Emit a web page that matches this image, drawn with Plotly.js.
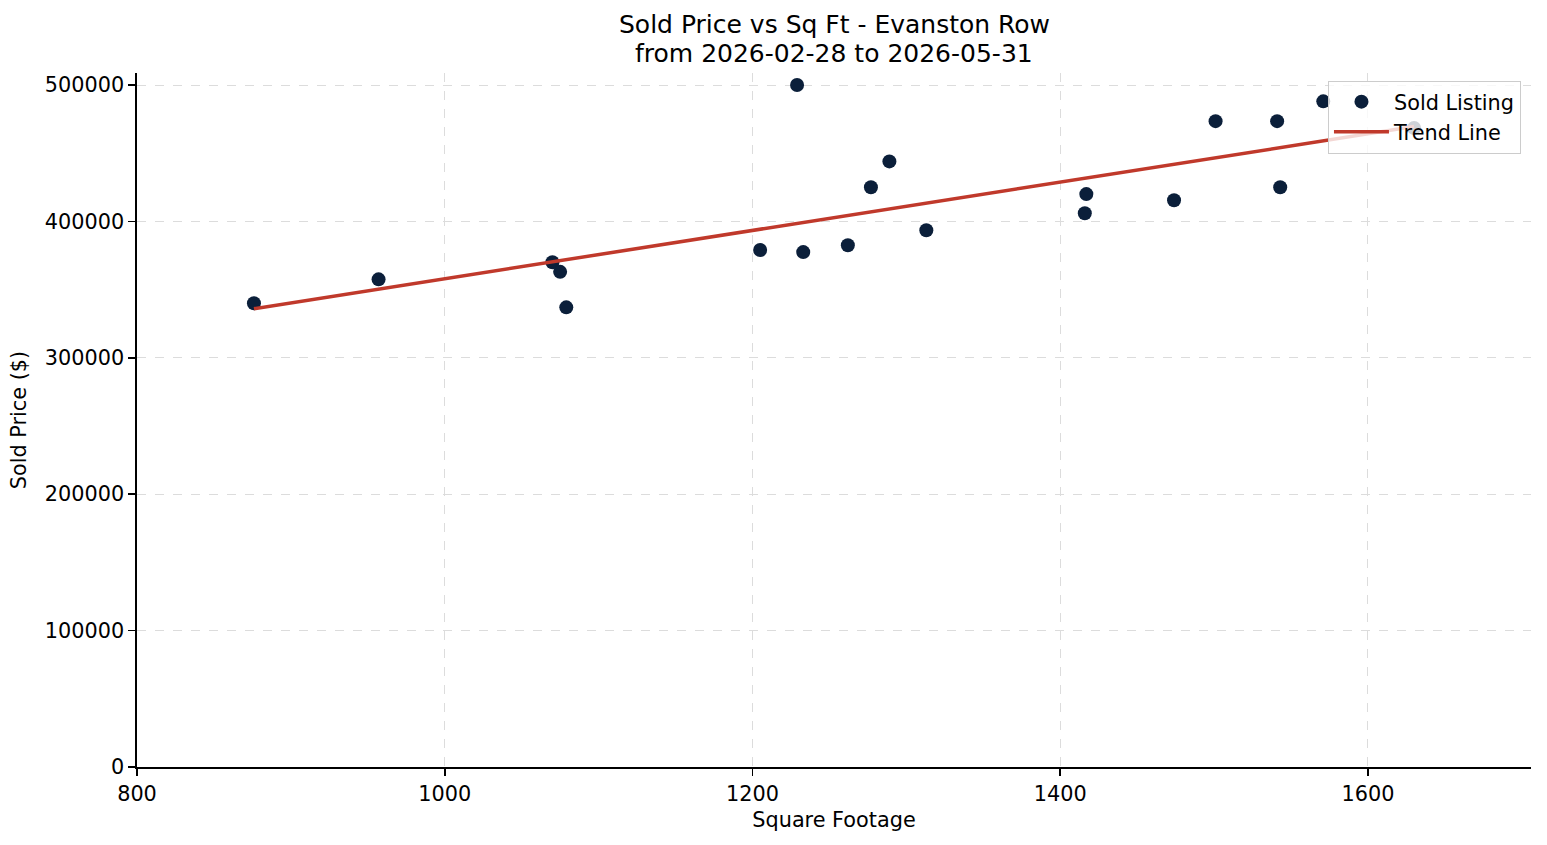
<!DOCTYPE html>
<html>
<head>
<meta charset="utf-8">
<script src="https://cdn.plot.ly/plotly-3.0.1.min.js"></script>
<style>html,body{margin:0;padding:0;background:#fff;}#chart{width:1547px;height:845px;}</style>
</head>
<body>
<div id="chart"></div>
<script>
const sqft = [876, 957, 1070, 1075, 1079, 1205, 1229, 1233, 1262, 1277, 1289, 1313, 1416, 1417, 1474, 1501, 1541, 1543, 1571, 1630];
const price = [340000, 357500, 370000, 363000, 337000, 379000, 500000, 377500, 382500, 425000, 444000, 393500, 406000, 420000, 415500, 473500, 473500, 425000, 488000, 468500];
const trendX = [876, 1630];
const trendY = [336000, 469500];
const titleLines = ['Sold Price vs Sq Ft - Evanston Row', 'from 2026-02-28 to 2026-05-31'];

const FS = 20.8;
const tickFont = {family: 'DejaVu Sans', size: FS, color: '#000'};

const traces = [
  {x: sqft, y: price, type: 'scatter', mode: 'markers', name: 'Sold Listing',
   marker: {color: '#0b1f3a', size: 14}},
  {x: trendX, y: trendY, type: 'scatter', mode: 'lines', name: 'Trend Line',
   line: {color: '#c0392b', width: 3.5}}
];

const layout = {
  width: 1547, height: 845,
  margin: {l: 137, r: 16, t: 73, b: 78},
  paper_bgcolor: '#fff', plot_bgcolor: '#fff',
  font: {family: 'DejaVu Sans', color: '#000'},
  annotations: [
    {text: titleLines[0], xref: 'paper', yref: 'paper', x: 0.5, y: 1.0692, xanchor: 'center', yanchor: 'middle',
     showarrow: false, font: {family: 'DejaVu Sans', size: 25, color: '#000'}},
    {text: titleLines[1], xref: 'paper', yref: 'paper', x: 0.5, y: 1.0288, xanchor: 'center', yanchor: 'middle',
     showarrow: false, font: {family: 'DejaVu Sans', size: 25, color: '#000'}}
  ],
  xaxis: {range: [800, 1706], tickvals: [800, 1000, 1200, 1400, 1600],
          showline: true, linecolor: '#000', linewidth: 1.7, mirror: false,
          ticks: 'outside', ticklen: 7, tickwidth: 1.7, tickcolor: '#000', tickfont: tickFont,
          showgrid: true, gridcolor: '#dcdcdc', griddash: 'dash', gridwidth: 1, zeroline: false,
          title: {text: 'Square Footage', font: {family: 'DejaVu Sans', size: FS, color: '#000'}, standoff: 8}},
  yaxis: {range: [0, 508800], tickvals: [0, 100000, 200000, 300000, 400000, 500000], tickformat: 'd',
          showline: true, linecolor: '#000', linewidth: 1.7, mirror: false,
          ticks: 'outside', ticklen: 7, tickwidth: 1.7, tickcolor: '#000', tickfont: tickFont,
          showgrid: true, gridcolor: '#dcdcdc', griddash: 'dash', gridwidth: 1, zeroline: false,
          title: {text: 'Sold Price ($)', font: {family: 'DejaVu Sans', size: FS, color: '#000'}, standoff: 12}},
  showlegend: true,
  legend: {x: 0.9928, xanchor: 'right', y: 0.989, yanchor: 'top',
           bgcolor: 'rgba(255,255,255,0.8)', bordercolor: '#cccccc', borderwidth: 1,
           font: {family: 'DejaVu Sans', size: FS, color: '#000'}, itemwidth: 55, tracegroupgap: 0}
};

Plotly.newPlot('chart', traces, layout, {displayModeBar: false, staticPlot: true});
</script>
</body>
</html>
